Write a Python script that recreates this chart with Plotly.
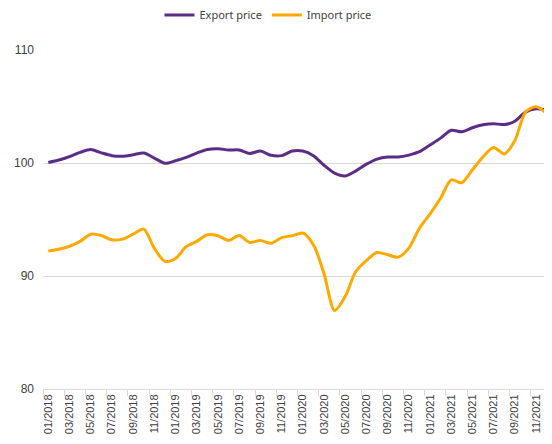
import plotly.graph_objects as go

months = [f"{m:02d}/{y}" for y in range(2018, 2022) for m in range(1, 13)]

export_price = [100.05, 100.26, 100.56, 100.94, 101.2, 100.9, 100.65, 100.6, 100.73, 100.88, 100.44, 99.97,
                100.2, 100.5, 100.88, 101.2, 101.27, 101.15, 101.15, 100.85, 101.06, 100.68, 100.65, 101.06,
                101.06, 100.65, 99.8, 99.1, 98.85, 99.3, 99.9, 100.35, 100.53, 100.53, 100.7, 101.0,
                101.6, 102.2, 102.9, 102.76, 103.12, 103.38, 103.48, 103.4, 103.7, 104.5, 104.8, 104.7]

import_price = [92.2, 92.37, 92.63, 93.06, 93.7, 93.58, 93.2, 93.26, 93.7, 94.15, 92.45, 91.3,
                91.55, 92.6, 93.06, 93.65, 93.56, 93.15, 93.58, 92.97, 93.15, 92.9, 93.4, 93.56,
                93.8, 92.76, 90.2, 86.95, 88.2, 90.4, 91.37, 92.08, 91.88, 91.67, 92.47, 94.23,
                95.5, 96.9, 98.5, 98.26, 99.4, 100.56, 101.38, 100.8, 102.0, 104.5, 104.97, 104.38]

tick_labels = months[0::2]

x_idx = list(range(len(months)))

fig = go.Figure()
fig.add_trace(go.Scatter(x=x_idx, y=export_price, name="Export price", mode="lines",
                         line=dict(color="#5B2D86", width=3, shape="spline", smoothing=0.8)))
fig.add_trace(go.Scatter(x=x_idx, y=import_price, name="Import price", mode="lines",
                         line=dict(color="#FFA800", width=3, shape="spline", smoothing=0.8)))
# invisible trace to attach the boundary-tick axis
fig.add_trace(go.Scatter(x=[-0.5], y=[80], xaxis="x2", mode="markers", showlegend=False,
                         marker=dict(opacity=0), hoverinfo="skip"))

n = len(months)
fig.update_layout(
    width=552, height=444,
    margin=dict(l=35, r=8, t=42, b=63, autoexpand=False),
    paper_bgcolor="white", plot_bgcolor="white",
    font=dict(family="Liberation Sans, Arial, sans-serif", size=11, color="#404040"),
    legend=dict(orientation="h", x=0.442, xanchor="center", yref="container", y=0.984, yanchor="middle",
                font=dict(family="Noto Sans, sans-serif", size=11, color="#404040"),
                itemwidth=30, tracegroupgap=0),
    xaxis=dict(range=[-0.5, n - 0.5], tickvals=x_idx[0::2], ticktext=tick_labels, automargin=False,
               tickangle=-90, showgrid=False, zeroline=False, ticks="", showline=True,
               linecolor="#d9d9d9", linewidth=1, tickfont=dict(size=11, color="#404040")),
    xaxis2=dict(range=[-0.5, n - 0.5], overlaying="x", side="bottom", anchor="y", automargin=False,
                tickvals=[i - 0.5 for i in range(0, n, 2)], showticklabels=False,
                ticks="outside", ticklen=6, tickcolor="#d9d9d9", tickwidth=1,
                showgrid=False, zeroline=False, showline=False),
    yaxis=dict(range=[80, 110], tickvals=[80, 90, 100, 110], showgrid=True, automargin=False,
               gridcolor="#d9d9d9", gridwidth=1, zeroline=False, ticks="",
               ticklabelstandoff=8, tickfont=dict(size=12, color="#404040")),
)

fig.write_html("out.html")
